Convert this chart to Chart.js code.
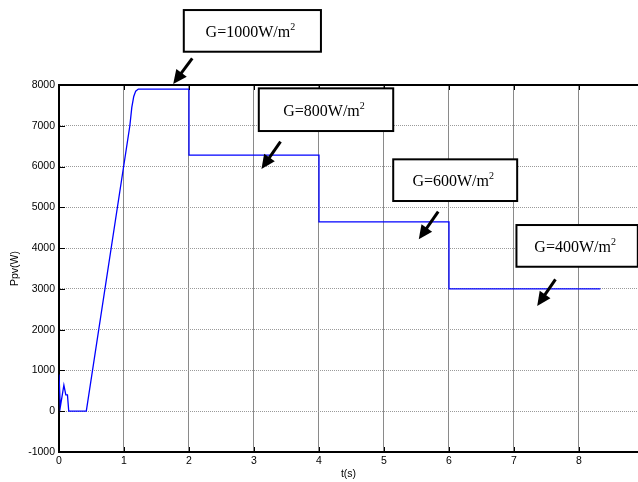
<!DOCTYPE html>
<html>
<head>
<meta charset="utf-8">
<script src="https://cdn.jsdelivr.net/npm/chart.js@4"></script>
<style>
  html, body { margin: 0; padding: 0; background: #fff; overflow: hidden; }
  canvas { display: block; }
</style>
</head>
<body>
<canvas id="c" width="638" height="482"></canvas>
<script>
// PV output power against time for four irradiance steps
const timeS = [0, 0.02, 0.075, 0.105, 0.13, 0.15, 0.42, 1.09, 1.12, 1.15, 1.18, 1.22, 2.0, 2.0, 4.0, 4.0, 6.0, 6.0, 8.33];
const powerW = [900, 100, 640, 400, 400, 0, 0, 7000, 7450, 7720, 7850, 7900, 7900, 6280, 6280, 4645, 4645, 3000, 3000];

const xTickValues = [0, 1, 2, 3, 4, 5, 6, 7, 8];
const yTickValues = [-1000, 0, 1000, 2000, 3000, 4000, 5000, 6000, 7000, 8000];

// Irradiance labels
const irradianceLabels = ['G=1000W/m', 'G=800W/m', 'G=600W/m', 'G=400W/m'];
const irradianceSup = ['2', '2', '2', '2'];

// Label boxes and arrows, placed in axis units (t, P)
const labelBoxes = [
  { t0: 1.92, t1: 4.03, p0: 9838, p1: 8816 },
  { t0: 3.074, t1: 5.142, p0: 7918, p1: 6871 },
  { t0: 5.142, t1: 7.049, p0: 6177, p1: 5155 },
  { t0: 7.038, t1: 8.905, p0: 4566, p1: 3543 }
];
const labelArrows = [
  { t0: 2.05, p0: 8654, t1: 1.757, p1: 8024 },
  { t0: 3.408, p0: 6609, t1: 3.115, p1: 5939 },
  { t0: 5.834, p0: 4892, t1: 5.535, p1: 4215 },
  { t0: 7.638, p0: 3234, t1: 7.357, p1: 2580 }
];

const tickFont = { family: 'Liberation Sans, Arial, sans-serif', size: 10.5 };

const frame = {
  id: 'frame',
  afterDatasetsDraw(chart) {
    const ctx = chart.ctx;
    const a = chart.chartArea;
    const xs = chart.scales.x, ys = chart.scales.y;
    ctx.save();
    // top edge of the box
    ctx.strokeStyle = '#000';
    ctx.lineWidth = 2;
    ctx.beginPath();
    ctx.moveTo(a.left - 1, a.top);
    ctx.lineTo(a.right, a.top);
    ctx.stroke();
    // inward tick marks
    ctx.lineWidth = 1;
    ctx.beginPath();
    xTickValues.forEach(v => {
      const x = Math.round(xs.getPixelForValue(v)) + 0.5;
      ctx.moveTo(x, a.bottom); ctx.lineTo(x, a.bottom - 5);
      ctx.moveTo(x, a.top); ctx.lineTo(x, a.top + 5);
    });
    yTickValues.forEach(v => {
      const y = Math.round(ys.getPixelForValue(v)) + 0.5;
      ctx.moveTo(a.left, y); ctx.lineTo(a.left + 6, y);
    });
    ctx.stroke();
    ctx.restore();
  },
  afterDraw(chart) {
    const ctx = chart.ctx;
    const xs = chart.scales.x, ys = chart.scales.y;
    ctx.save();
    labelBoxes.forEach((b, i) => {
      const x0 = xs.getPixelForValue(b.t0), x1 = xs.getPixelForValue(b.t1);
      const y0 = ys.getPixelForValue(b.p0), y1 = ys.getPixelForValue(b.p1);
      ctx.fillStyle = '#fff';
      ctx.fillRect(x0, y0, x1 - x0, y1 - y0);
      ctx.strokeStyle = '#000';
      ctx.lineWidth = 2;
      ctx.strokeRect(x0, y0, x1 - x0, y1 - y0);

      const main = irradianceLabels[i], sup = irradianceSup[i];
      ctx.font = '16px "Liberation Serif", "Times New Roman", serif';
      const wMain = ctx.measureText(main).width;
      ctx.font = '10px "Liberation Serif", "Times New Roman", serif';
      const wSup = ctx.measureText(sup).width;
      const cx = (x0 + x1) / 2, cy = (y0 + y1) / 2;
      const start = cx - (wMain + wSup) / 2 - 2;
      const base = cy + 6;
      ctx.fillStyle = '#000';
      ctx.textBaseline = 'alphabetic';
      ctx.textAlign = 'left';
      ctx.font = '16px "Liberation Serif", "Times New Roman", serif';
      ctx.fillText(main, start, base);
      ctx.font = '10px "Liberation Serif", "Times New Roman", serif';
      ctx.fillText(sup, start + wMain, base - 7);

      const ar = labelArrows[i];
      const ax0 = xs.getPixelForValue(ar.t0), ay0 = ys.getPixelForValue(ar.p0);
      const ax1 = xs.getPixelForValue(ar.t1), ay1 = ys.getPixelForValue(ar.p1);
      const ang = Math.atan2(ay1 - ay0, ax1 - ax0);
      const headLen = 14, headHalf = 6.5;
      const bx = ax1 - headLen * Math.cos(ang), by = ay1 - headLen * Math.sin(ang);
      ctx.strokeStyle = '#000';
      ctx.lineWidth = 3;
      ctx.beginPath();
      ctx.moveTo(ax0, ay0);
      ctx.lineTo(bx + 2 * Math.cos(ang), by + 2 * Math.sin(ang));
      ctx.stroke();
      ctx.beginPath();
      ctx.moveTo(ax1, ay1);
      ctx.lineTo(bx + headHalf * Math.sin(ang), by - headHalf * Math.cos(ang));
      ctx.lineTo(bx - headHalf * Math.sin(ang), by + headHalf * Math.cos(ang));
      ctx.closePath();
      ctx.fillStyle = '#000';
      ctx.fill();
    });
    ctx.restore();
  }
};

new Chart(document.getElementById('c'), {
  type: 'line',
  data: {
    datasets: [{
      data: timeS.map((t, i) => ({ x: t, y: powerW[i] })),
      borderColor: '#0000ff',
      borderWidth: 1.3,
      pointRadius: 0,
      tension: 0,
      fill: false
    }]
  },
  options: {
    responsive: false,
    animation: false,
    events: [],
    layout: { padding: { top: 85, right: 0, left: 0, bottom: 0 } },
    plugins: { legend: { display: false }, tooltip: { enabled: false } },
    scales: {
      x: {
        type: 'linear',
        min: 0,
        max: 8.908,
        afterBuildTicks: s => { s.ticks = xTickValues.map(v => ({ value: v })); },
        afterFit: s => { s.height = 30; },
        ticks: { color: '#000', font: tickFont, padding: 3, maxRotation: 0, callback: v => String(v) },
        grid: { color: '#8a8a8a', lineWidth: 1, drawTicks: false },
        border: { display: true, color: '#000', width: 2 },
        title: { display: true, text: 't(s)', color: '#000', font: tickFont, padding: { top: 0, bottom: 1.5 } }
      },
      y: {
        type: 'linear',
        min: -1000,
        max: 8000,
        afterBuildTicks: s => { s.ticks = yTickValues.map(v => ({ value: v })); },
        afterFit: s => { s.width = 59; },
        ticks: { color: '#000', font: tickFont, padding: 4, callback: v => String(v) },
        grid: { color: '#9a9a9a', lineWidth: 1, drawTicks: false },
        border: { display: true, color: '#000', width: 2, dash: [1, 1] },
        title: { display: true, text: 'Ppv(W)', color: '#000', font: tickFont, padding: { top: 9, bottom: 0 } }
      }
    }
  },
  plugins: [frame]
});
</script>
</body>
</html>
